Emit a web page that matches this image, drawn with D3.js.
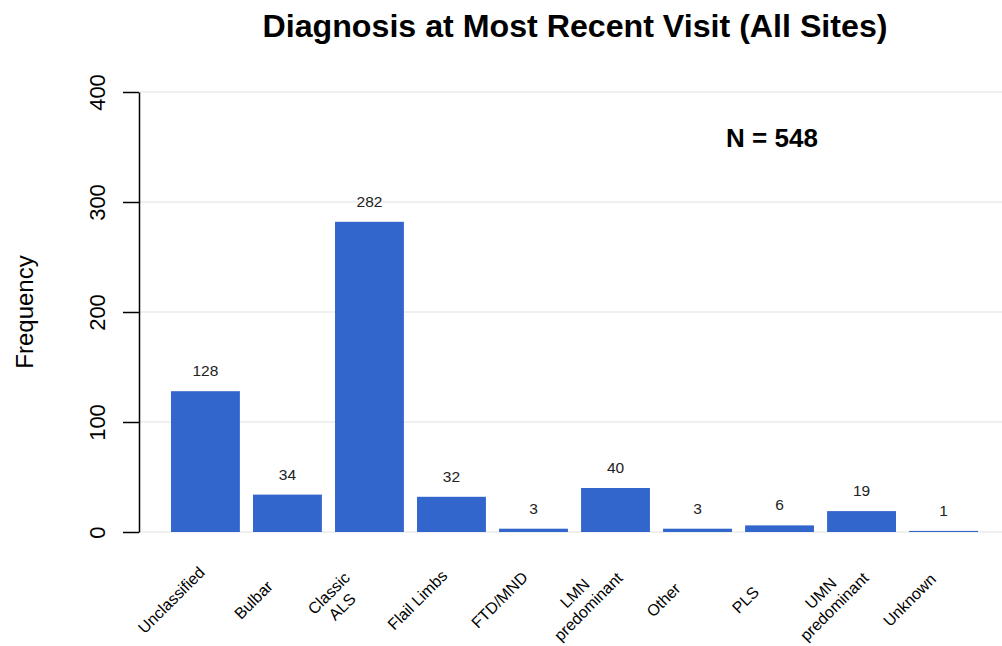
<!DOCTYPE html>
<html>
<head>
<meta charset="utf-8">
<script src="https://cdn.jsdelivr.net/npm/d3@7"></script>
<style>
  body { margin: 0; background: #fff; }
  text { font-family: "Liberation Sans", Arial, sans-serif; }
</style>
</head>
<body>
<svg id="chart" width="1002" height="646"></svg>
<script>
// donnees
var categories = ["Unclassified", "Bulbar", "Classic\nALS", "Flail Limbs", "FTD/MND",
                  "LMN\npredominant", "Other", "PLS", "UMN\npredominant", "Unknown"];
var counts = [128, 34, 282, 32, 3, 40, 3, 6, 19, 1];
var yTicks = [0, 100, 200, 300, 400];
var total = 548;

var svg = d3.select("#chart");

var x = d3.scaleBand()
  .domain(categories)
  .range([165, 984])
  .paddingInner(0.16)
  .paddingOuter(0.073);

var y = d3.scaleLinear().domain([0, 400]).range([532, 92]);

// grille
svg.append("g").selectAll("line")
  .data(yTicks)
  .join("line")
  .attr("x1", 140).attr("x2", 1002)
  .attr("y1", d => y(d)).attr("y2", d => y(d))
  .attr("stroke", "#ebebeb").attr("stroke-width", 1.5);

// barres
svg.append("g").selectAll("rect")
  .data(counts)
  .join("rect")
  .attr("x", (d, i) => x(categories[i]))
  .attr("width", x.bandwidth())
  .attr("y", d => y(d))
  .attr("height", d => y(0) - y(d))
  .attr("fill", "#3366cc");

// valeurs
svg.append("g").selectAll("text")
  .data(counts)
  .join("text")
  .attr("x", (d, i) => x(categories[i]) + x.bandwidth() / 2)
  .attr("y", d => y(d) - 15)
  .attr("text-anchor", "middle")
  .attr("font-size", 15.5)
  .attr("fill", "#222")
  .text(d => d);

// axe y
var yAxis = svg.append("g")
  .attr("transform", "translate(139,0)")
  .call(d3.axisLeft(y).tickValues(yTicks).tickSize(16).tickSizeOuter(0).tickPadding(0));
yAxis.select(".domain").attr("stroke", "#000").attr("stroke-width", 1.5);
yAxis.selectAll(".tick line").attr("stroke", "#000").attr("stroke-width", 1.5);
yAxis.selectAll(".tick text").remove();
yAxis.selectAll(".tick").append("text")
  .attr("transform", "translate(-34,0) rotate(-90)")
  .attr("text-anchor", "middle")
  .attr("font-size", 22)
  .attr("fill", "#000")
  .attr("font-family", "Liberation Sans, Arial, sans-serif")
  .text(d => d);

// etiquettes x (rotation -45)
var lineH = 19;
svg.append("g").selectAll("g")
  .data(categories)
  .join("g")
  .attr("transform", d => "translate(" + (x(d) + x.bandwidth() / 2 - 34) + ",600) rotate(-45)")
  .each(function(d) {
    var lignes = d.split("\n");
    var g = d3.select(this);
    lignes.forEach(function(l, k) {
      g.append("text")
        .attr("x", 0)
        .attr("y", (k - (lignes.length - 1) / 2) * lineH + 5.5)
        .attr("text-anchor", "middle")
        .attr("font-size", 16)
        .attr("fill", "#000")
        .text(l);
    });
  });

// titre
svg.append("text")
  .attr("x", 575).attr("y", 37)
  .attr("text-anchor", "middle")
  .attr("font-size", 31)
  .attr("font-weight", "bold")
  .attr("textLength", 625)
  .attr("lengthAdjust", "spacingAndGlyphs")
  .text("Diagnosis at Most Recent Visit (All Sites)");

svg.append("text")
  .attr("x", 772).attr("y", 147)
  .attr("text-anchor", "middle")
  .attr("font-size", 26)
  .attr("font-weight", "bold")
  .text("N = " + total);

svg.append("text")
  .attr("transform", "translate(33,312) rotate(-90)")
  .attr("text-anchor", "middle")
  .attr("font-size", 24)
  .text("Frequency");
</script>
</body>
</html>
